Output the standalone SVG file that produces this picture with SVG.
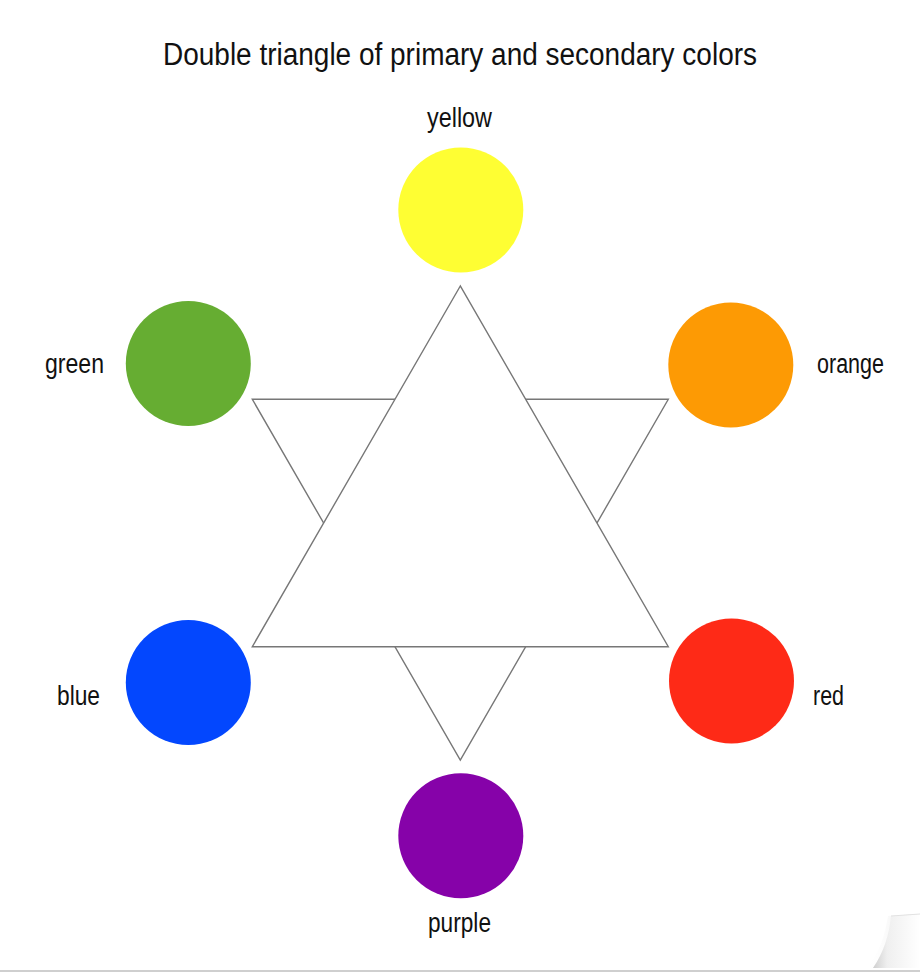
<svg xmlns="http://www.w3.org/2000/svg" width="920" height="973" viewBox="0 0 920 973">
  <style>
    text { font-family: "Liberation Sans", Arial, sans-serif; fill: #111; }
    .title { font-size: 31px; }
    .lbl { font-size: 27px; }
    .tri { fill: #fff; stroke: #777; stroke-width: 1.4; stroke-linejoin: miter; }
  </style>
  <defs>
    <linearGradient id="curl" x1="0" y1="0" x2="1" y2="0">
      <stop offset="0" stop-color="#cfcfcf"/>
      <stop offset="0.3" stop-color="#efefef"/>
      <stop offset="1" stop-color="#ffffff"/>
    </linearGradient>
    <linearGradient id="shadow" x1="0" y1="0" x2="1" y2="0">
      <stop offset="0" stop-color="#ffffff" stop-opacity="0"/>
      <stop offset="1" stop-color="#bdbdbd" stop-opacity="0.8"/>
    </linearGradient>
  </defs>
  <rect x="0" y="0" width="920" height="973" fill="#fff"/>

  <text class="title" x="460" y="65" text-anchor="middle" textLength="594" lengthAdjust="spacingAndGlyphs">Double triangle of primary and secondary colors</text>

  <g id="connectors">
    <polygon class="tri" points="252.3,399.3 668.3,399.3 460.3,760"/>
    <polygon class="tri" points="460.3,286 252.3,646.7 668.3,646.7"/>
  </g>

  <g id="yellow">
    <circle cx="460.8" cy="210" r="62.5" fill="#fefe33"/>
    <text class="lbl" x="427" y="127" textLength="65" lengthAdjust="spacingAndGlyphs">yellow</text>
  </g>
  <g id="orange">
    <circle cx="730.8" cy="365" r="62.5" fill="#fd9a04"/>
    <text class="lbl" x="817" y="373" textLength="67" lengthAdjust="spacingAndGlyphs">orange</text>
  </g>
  <g id="red">
    <circle cx="731.5" cy="681" r="62.5" fill="#fe2a17"/>
    <text class="lbl" x="813" y="705" textLength="31" lengthAdjust="spacingAndGlyphs">red</text>
  </g>
  <g id="purple">
    <circle cx="460.8" cy="835.8" r="62.5" fill="#8602a9"/>
    <text class="lbl" x="428" y="932" textLength="63" lengthAdjust="spacingAndGlyphs">purple</text>
  </g>
  <g id="blue">
    <circle cx="188.3" cy="682.5" r="62.5" fill="#0347fe"/>
    <text class="lbl" x="57" y="705" textLength="43" lengthAdjust="spacingAndGlyphs">blue</text>
  </g>
  <g id="green">
    <circle cx="188.3" cy="363.5" r="62.5" fill="#66ad32"/>
    <text class="lbl" x="45" y="373" textLength="59" lengthAdjust="spacingAndGlyphs">green</text>
  </g>

  <g id="page-curl">
    <path d="M866,968 C879,955 885,935 888,916 L920,914 L920,968 Z" fill="url(#shadow)" opacity="0.6"/>
    <path d="M873,968 C884,952 889,935 891,916 L920,914 L920,968 Z" fill="url(#curl)"/>
    <path d="M891,916 L920,914" stroke="#e2e2e2" stroke-width="1" fill="none"/>
  </g>
  <rect x="0" y="970" width="920" height="2" fill="#cfcfcf"/>
</svg>
